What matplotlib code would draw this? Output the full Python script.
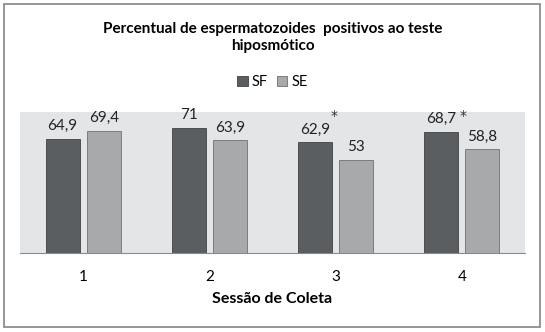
import matplotlib
matplotlib.use("Agg")
import matplotlib.pyplot as plt
from matplotlib.patches import Rectangle
import numpy as np

plt.rcParams['font.family'] = ['Lato', 'DejaVu Sans']

sessions = ["1", "2", "3", "4"]
sf = [64.9, 71, 62.9, 68.7]
se = [69.4, 63.9, 53, 58.8]
sf_labels = ["64,9", "71", "62,9", "68,7"]
se_labels = ["69,4", "63,9", "53", "58,8"]
sf_star = [False, False, True, True]

W, H = 545, 332
fig = plt.figure(figsize=(W / 100, H / 100), dpi=100)
fig.patches.append(Rectangle((4 / W, 5 / H), 536 / W, 323 / H, transform=fig.transFigure,
                             fill=False, edgecolor="#8e8e8e", linewidth=1.3))
ax = fig.add_axes([20 / W, 79 / H, 505 / W, 141 / H])
ax.set_facecolor("#e4e5e6")
x = np.arange(len(sessions))
w = 0.27
off = 0.163
b1 = ax.bar(x - off, sf, w, color="#5b5e61", edgecolor="#3f4245", linewidth=0.6, label="SF")
b2 = ax.bar(x + off, se, w, color="#a7a9ab", edgecolor="#6e7073", linewidth=0.6, label="SE")
star_offsets = {2: (14, 19), 3: (16, 11.5)}
for i in range(len(sessions)):
    ax.annotate(sf_labels[i], (x[i] - off, sf[i]), xytext=(0, 4), textcoords="offset points",
                ha="center", va="bottom", fontsize=11, color="#222222")
    ax.annotate(se_labels[i], (x[i] + off, se[i]), xytext=(0, 4), textcoords="offset points",
                ha="center", va="bottom", fontsize=11, color="#222222")
    if sf_star[i]:
        ax.annotate("*", (x[i] - off, sf[i]), xytext=star_offsets[i], textcoords="offset points",
                    ha="center", va="center", fontsize=10, color="#333333",
                    family="DejaVu Sans")
ax.set_ylim(0, 80)
ax.set_xlim(-0.5, 3.5)
ax.set_yticks([])
ax.set_xticks(x)
ax.set_xticklabels(sessions, fontsize=11)
ax.tick_params(axis="x", length=0, pad=12)
for s in ["top", "right", "left"]:
    ax.spines[s].set_visible(False)
ax.spines["bottom"].set_color("#8a8a8a")
ax.set_xlabel("Sessão de Coleta", fontsize=11.5, fontweight="bold", labelpad=6)
fig.text(0.5, 1 - 37.5 / H, "Percentual de espermatozoides  positivos ao teste\nhiposmótico",
         ha="center", va="center", fontsize=11, fontweight="bold", linespacing=1.35)
fig.legend(handles=[b1, b2], labels=["SF", "SE"], loc="center", bbox_to_anchor=(0.5, 1 - 82 / H),
           ncol=2, frameon=False, fontsize=10.5, handlelength=0.7, handleheight=0.7,
           handletextpad=0.3, columnspacing=0.6)
fig.savefig("out.png", dpi=100)
